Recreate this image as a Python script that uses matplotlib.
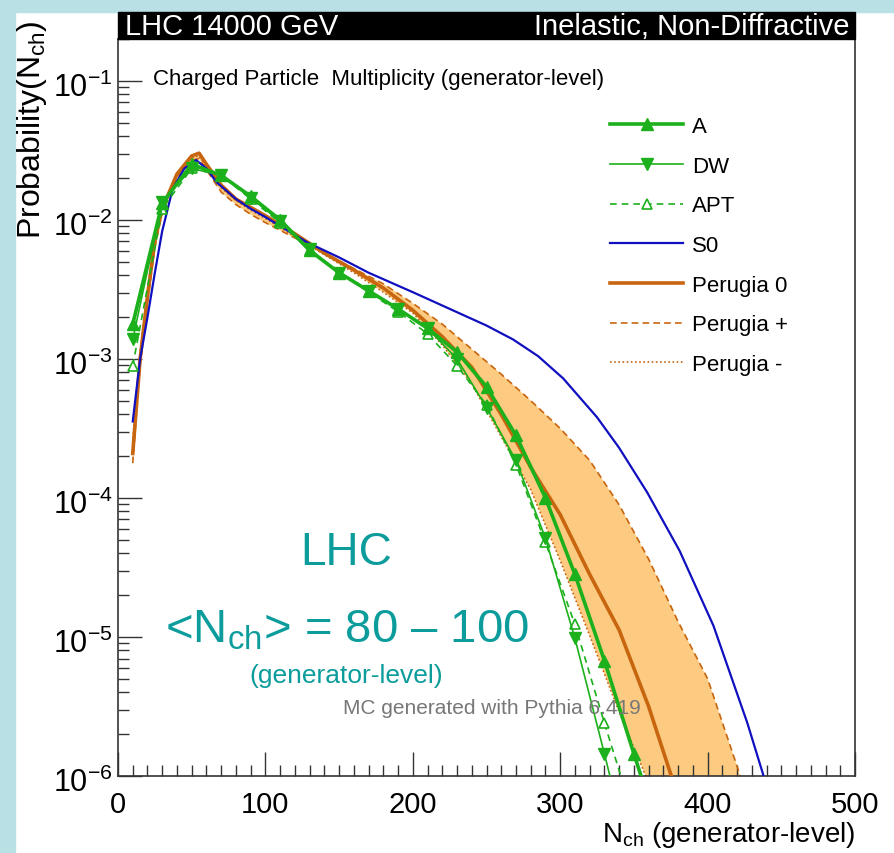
import matplotlib
matplotlib.use("Agg")
import matplotlib.pyplot as plt
import numpy as np
from matplotlib.patches import Rectangle
from matplotlib.transforms import ScaledTranslation
from matplotlib.ticker import LogLocator, MultipleLocator, NullFormatter, FixedLocator

plt.rcParams['font.family'] = ['Liberation Sans', 'DejaVu Sans']
plt.rcParams['mathtext.fontset'] = 'custom'
plt.rcParams['mathtext.rm'] = 'Liberation Sans'
plt.rcParams['mathtext.it'] = 'Liberation Sans:italic'
plt.rcParams['mathtext.bf'] = 'Liberation Sans:bold'

W, H = 894, 854

# --- data: log10(probability) ---
# Pythia tunes with markers (every 20 in N_ch)
tune_x = [10, 30, 50, 70, 90, 110, 130, 150, 170, 190, 210, 230, 250, 270, 290, 310, 330, 350, 370]
tune_A = [-2.75, -1.88, -1.60, -1.68, -1.83, -2.00, -2.22, -2.38, -2.51, -2.64, -2.78, -2.95,
          -3.20, -3.55, -4.00, -4.55, -5.17, -5.84, -6.50]
tune_DW = [-2.86, -1.87, -1.63, -1.68, -1.84, -2.01, -2.21, -2.38, -2.51, -2.64, -2.78, -3.00,
           -3.35, -3.73, -4.29, -5.01, -5.84, -6.70, -7.50]
tune_APT = [-3.05, -1.92, -1.63, -1.68, -1.85, -2.02, -2.22, -2.38, -2.52, -2.66, -2.82, -3.05,
            -3.33, -3.76, -4.32, -4.91, -5.62, -6.30, -7.00]

# S0 (smooth curve)
s0_x = [10, 15, 20, 25, 30, 37, 45, 53, 60, 67, 80, 90, 100, 128, 150, 170, 200, 225, 250, 268,
        285, 302, 325, 340, 359, 381, 404, 427, 438, 450]
s0_y = [-3.45, -3.00, -2.70, -2.38, -2.08, -1.78, -1.63, -1.57, -1.63, -1.73, -1.85, -1.92, -1.98,
        -2.16, -2.27, -2.38, -2.52, -2.64, -2.76, -2.86, -2.98, -3.14, -3.42, -3.64, -3.96, -4.38,
        -4.92, -5.62, -6.00, -6.40]

# Perugia family on a common grid
per_x = [10, 15, 20, 25, 30, 40, 50, 55, 60, 70, 80, 90, 100, 120, 140, 160, 180, 200, 220, 240,
         260, 280, 300, 320, 340, 360, 380, 400, 420, 440]
per_0 = [-3.68, -3.00, -2.55, -2.15, -1.92, -1.67, -1.54, -1.52, -1.60, -1.75, -1.85, -1.91, -1.97,
         -2.10, -2.24, -2.36, -2.49, -2.65, -2.84, -3.06, -3.40, -3.78, -4.12, -4.55, -4.95, -5.50,
         -6.15, -6.80, -7.50, -8.20]
per_plus = [-3.75, -3.05, -2.60, -2.20, -1.95, -1.70, -1.57, -1.56, -1.64, -1.80, -1.89, -1.96, -2.02,
            -2.13, -2.24, -2.35, -2.46, -2.60, -2.75, -2.93, -3.11, -3.30, -3.50, -3.73, -4.05, -4.44,
            -4.89, -5.30, -5.93, -6.60]
per_minus = [-3.60, -2.95, -2.50, -2.12, -1.93, -1.68, -1.55, -1.54, -1.62, -1.77, -1.86, -1.93, -1.99,
             -2.12, -2.25, -2.38, -2.52, -2.67, -2.90, -3.18, -3.56, -3.94, -4.45, -4.99, -5.54, -6.05,
             -6.70, -7.40, -8.00, -8.60]

green = '#1cb01c'
blue = '#1010c0'
brown = '#c8650f'
band = '#fcca80'
teal = '#0c9c9c'
bg = '#b9e0e4'


def p(v):
    return 10.0 ** np.array(v)


def fx(x, y):
    return x / W, 1 - y / H


fig = plt.figure(figsize=(W / 100, H / 100), dpi=100)
fig.patches.append(Rectangle((0, 1 - 13 / H), 1, 13 / H, transform=fig.transFigure,
                             color=bg, zorder=0))
fig.patches.append(Rectangle((0, 0), 15 / W, 1, transform=fig.transFigure, color=bg, zorder=0))

ax = fig.add_axes([118 / W, 1 - 777 / H, (855 - 118) / W, (777 - 40) / H])

ax.fill_between(per_x, p(per_minus), p(per_plus), color=band, lw=0, zorder=1)
lm, = ax.plot(per_x, p(per_minus), ls=(0, (1, 1.5)), color=brown, lw=1.2, zorder=2)
lp, = ax.plot(per_x, p(per_plus), ls=(0, (4, 2.5)), color=brown, lw=1.2, zorder=2)
l0, = ax.plot(per_x, p(per_0), color=brown, lw=2.6, zorder=3)
ls0, = ax.plot(s0_x, p(s0_y), color=blue, lw=1.6, zorder=3)
lapt, = ax.plot(tune_x, p(tune_APT), color=green, lw=1.2, ls=(0, (4, 3)), marker='^',
                mfc='white', mec=green, ms=7, mew=1.2, zorder=4)
ldw, = ax.plot(tune_x, p(tune_DW), color=green, lw=1.2, marker='v', mfc=green, mec=green,
               ms=8, zorder=4)
la, = ax.plot(tune_x, p(tune_A), color=green, lw=2.6, marker='^', mfc=green, mec=green,
              ms=8, zorder=5)

ax.set_yscale('log')
ax.set_xlim(0, 500)
ax.set_ylim(1e-6, 0.2)
ax.xaxis.set_major_locator(MultipleLocator(100))
ax.xaxis.set_minor_locator(MultipleLocator(10))
ax.yaxis.set_major_locator(FixedLocator([1e-6, 1e-5, 1e-4, 1e-3, 1e-2, 1e-1]))
ax.yaxis.set_minor_locator(LogLocator(base=10, subs=np.arange(2, 10), numticks=20))
ax.yaxis.set_minor_formatter(NullFormatter())
ax.tick_params(which='both', direction='in', top=False, right=False,
               color='#333333', width=1)
ax.tick_params(axis='x', labelsize=21, pad=10)
ax.tick_params(axis='y', labelsize=22, pad=4)
ax.tick_params(which='major', length=17)
ax.tick_params(which='minor', length=8)
for s in ax.spines.values():
    s.set_color('#333333')
    s.set_linewidth(1.2)

# ROOT-like placement: "10" centred on the tick, exponent above
for lab in ax.get_yticklabels():
    lab.set_transform(lab.get_transform() + ScaledTranslation(0, -3 / 100, fig.dpi_scale_trans))

# title bar
fig.patches.append(Rectangle(fx(118, 40), (855 - 118) / W, 27 / H, transform=fig.transFigure,
                             color='black', zorder=5))
fig.text(*fx(125, 27), 'LHC 14000 GeV', color='white', fontsize=21, ha='left', va='center',
         zorder=6)
fig.text(*fx(849, 27), 'Inelastic, Non-Diffractive', color='white', fontsize=21, ha='right',
         va='center', zorder=6)

fig.text(*fx(153, 80), 'Charged Particle  Multiplicity (generator-level)', fontsize=16,
         ha='left', va='center')

fig.text(*fx(32, 20), r'Probability(N$_{\rm ch}$)', rotation=90, fontsize=23, ha='center',
         va='top')
fig.text(*fx(855, 842), r'N$_{\rm ch}$ (generator-level)', fontsize=20, ha='right',
         va='baseline')

fig.text(*fx(346, 553), 'LHC', color=teal, fontsize=33, ha='center', va='center')
fig.text(*fx(165, 643), r'<N$_{\rm ch}$> = 80 – 100', color=teal, fontsize=34, ha='left',
         va='baseline')
fig.text(*fx(346, 676), '(generator-level)', color=teal, fontsize=19, ha='center',
         va='center')
fig.text(*fx(343, 708), 'MC generated with Pythia 6.419', color='#777777', fontsize=15,
         ha='left', va='center')

leg = fig.legend([la, ldw, lapt, ls0, l0, lp, lm],
                 ['A', 'DW', 'APT', 'S0', 'Perugia 0', 'Perugia +', 'Perugia -'],
                 loc='upper left', bbox_to_anchor=fx(610, 117), frameon=False, fontsize=16,
                 handlelength=3.3, handletextpad=0.4, labelspacing=0.84, borderpad=0,
                 borderaxespad=0, numpoints=1)

fig.savefig('out.png', dpi=100, facecolor='white')
